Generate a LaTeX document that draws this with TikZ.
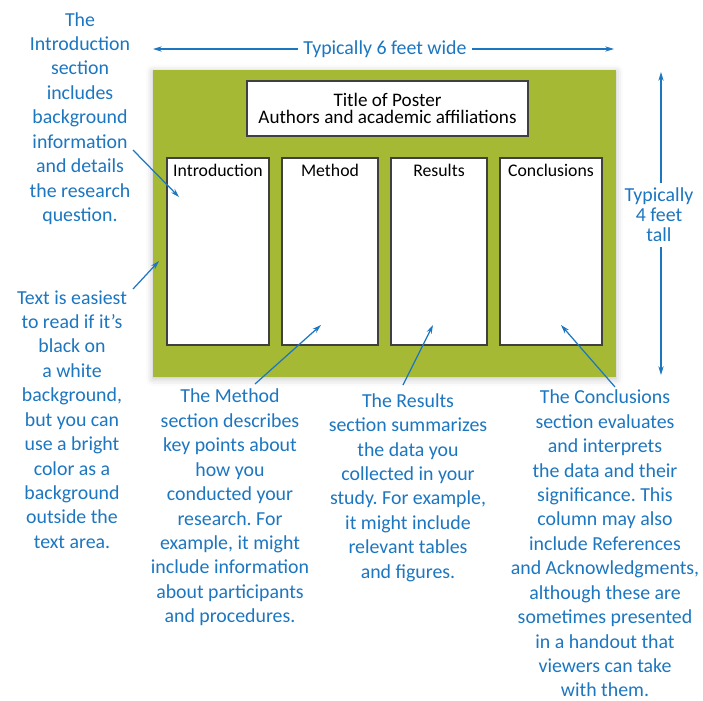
\documentclass[tikz,border=0pt]{standalone}
\usepackage{fontspec}
\setmainfont{Carlito}
\usepackage{tikz}
\tikzset{>=stealth}
\usetikzlibrary{arrows.meta, positioning, shadows.blur}
\frenchspacing

\definecolor{posterGreen}{RGB}{166,185,52}
\definecolor{noteBlue}{RGB}{28,118,192}
\definecolor{boxGray}{RGB}{64,64,64}

\begin{document}
\begin{tikzpicture}[x=0.02cm, y=-0.02cm, >={Stealth[length=5pt,width=3pt]},
  note/.style={text=noteBlue, align=center, font=\fontsize{11.3}{13.9}\selectfont, inner sep=0pt},
  pointer/.style={->, draw=noteBlue, line width=0.7pt},
  colbox/.style={draw=boxGray, line width=0.85pt, fill=white, minimum height=3.74cm, inner sep=0pt},
  coltitle/.style={font=\fontsize{10.1}{12}\selectfont, inner sep=0pt}]

  \useasboundingbox (0,0) rectangle (703,700);

  % Poster board
  \node[fill=posterGreen, minimum width=9.26cm, minimum height=6.14cm, inner sep=0pt,
    blur shadow={shadow xshift=0pt, shadow yshift=-1pt, shadow blur radius=4pt, shadow opacity=25}]
    (board) at (384.5,223.5) {};

  \node[draw=boxGray, line width=0.85pt, fill=white, minimum width=5.62cm, minimum height=1.1cm,
    align=center, font=\fontsize{10.9}{9.7}\selectfont] (title) at (387.5,108.5)
    {Title of Poster\\Authors and academic affiliations};

  % the four columns
  \foreach \col/\cx/\colw/\lab in {intro/218/2.04/Introduction, method/330/1.92/Method,
      results/439/1.92/Results, concl/551/2.04/Conclusions} {
    \node[colbox, minimum width=\colw cm] (\col) at (\cx,251.5) {};
    \node[coltitle, below=4pt] (\col-title) at (\col.north) {\lab};
  }

  % Width and height
  \coordinate (wideL) at (153,49);
  \coordinate (wideR) at (614,49);
  \draw[<->, noteBlue, line width=0.7pt] (wideL) -- (wideR);
  \node[note, fill=white, inner xsep=3pt] (wide) at (385,49.5) {Typically 6 feet wide};

  \coordinate (tallT) at (661,72);
  \coordinate (tallB) at (661,375);
  \draw[<->, noteBlue, line width=0.7pt] (tallT) -- (tallB);
  \node[note, fill=white, font=\fontsize{11.3}{11.4}\selectfont, inner ysep=3pt] (tall) at (659,215)
    {Typically\\4 feet\\tall};

  % Notes
  \node[note] (intronote) at (80,118.5) {The\\Introduction\\section\\includes\\background\\information\\and details\\the research\\question.};
  \node[note] (bgnote) at (72,419.5) {Text is easiest\\to read if it's\\black on\\a white\\background,\\but you can\\use a bright\\color as a\\background\\outside the\\text area.};
  \node[note] (methodnote) at (230,507.5) {The Method\\section describes\\key points about\\how you\\conducted your\\research. For\\example, it might\\include information\\about participants\\and procedures.};
  \node[note] (resultsnote) at (408,487.5) {The Results\\section summarizes\\the data you\\collected in your\\study. For example,\\it might include\\relevant tables\\and figures.};
  \node[note] (conclnote) at (605,543.5) {The Conclusions\\section evaluates\\and interprets\\the data and their\\significance. This\\column may also\\include References\\and Acknowledgments,\\although these are\\sometimes presented\\in a handout that\\viewers can take\\with them.};

  % Pointers
  \coordinate (introfrom) at (133,150);
  \coordinate (introto) at (179,197);
  \coordinate (bgfrom) at (133,289);
  \coordinate (bgto) at (159,261);
  \coordinate (methodfrom) at (255,384);
  \coordinate (methodto) at (321,325);
  \coordinate (resultsfrom) at (403,385);
  \coordinate (resultsto) at (433,325);
  \coordinate (conclfrom) at (615,387);
  \coordinate (conclto) at (561,325);
  \draw[pointer] (introfrom) -- (introto);
  \draw[pointer] (bgfrom) -- (bgto);
  \draw[pointer] (methodfrom) -- (methodto);
  \draw[pointer] (resultsfrom) -- (resultsto);
  \draw[pointer] (conclfrom) -- (conclto);
\end{tikzpicture}
\end{document}
